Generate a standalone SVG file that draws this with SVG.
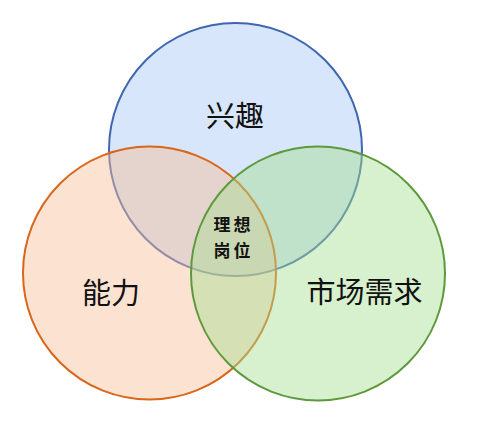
<svg xmlns="http://www.w3.org/2000/svg" width="479" height="432" viewBox="0 0 479 432">
<style>
.c{stroke-width:2;fill-opacity:0.45}
.big{font-family:"Noto Sans CJK SC","Noto Sans",sans-serif;font-size:29px;fill:#111;text-anchor:middle}
.small{font-family:"Noto Sans CJK SC","Noto Sans",sans-serif;font-size:17px;font-weight:bold;fill:#111;text-anchor:middle;letter-spacing:3px}
</style>
<rect width="479" height="432" fill="#ffffff"/>
<g id="interest">
<circle class="c" cx="235.5" cy="149.5" r="126.5" fill="#A6C7F4" stroke="#3F66B0"/>
<text class="big" x="235" y="127">兴趣</text>
</g>
<g id="ability">
<circle class="c" cx="149.5" cy="273" r="126.5" fill="#F6BE98" stroke="#D9661A"/>
<text class="big" x="111" y="304">能力</text>
</g>
<g id="market">
<circle class="c" cx="318" cy="273.5" r="127" fill="#A6DE90" stroke="#5E9A3C"/>
<text class="big" x="364.5" y="303">市场需求</text>
</g>
<g id="ideal">
<text class="small" x="233.5" y="231">理想</text>
<text class="small" x="233.5" y="257">岗位</text>
</g>
</svg>
